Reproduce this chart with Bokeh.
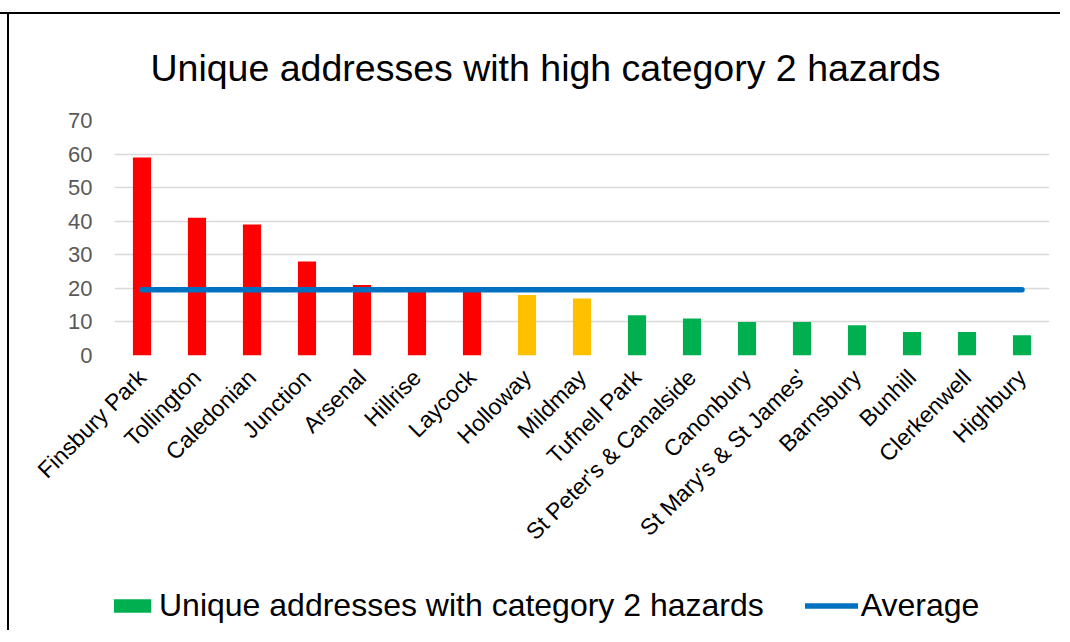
import math
from bokeh.plotting import figure
from bokeh.layouts import column
from bokeh.models import (ColumnDataSource, FactorRange, Range1d, FixedTicker,
                          Legend, LegendItem)
from bokeh.embed import file_html
from bokeh.resources import INLINE

# ---- data ----
wards = ["Finsbury Park", "Tollington", "Caledonian", "Junction", "Arsenal",
         "Hillrise", "Laycock", "Holloway", "Mildmay", "Tufnell Park",
         "St Peter's & Canalside", "Canonbury", "St Mary's & St James'",
         "Barnsbury", "Bunhill", "Clerkenwell", "Highbury"]
addresses = [59, 41, 39, 28, 21, 19, 19, 18, 17, 12, 11, 10, 10, 9, 7, 7, 6]
band = ["high", "high", "high", "high", "high", "high", "high",
        "medium", "medium",
        "low", "low", "low", "low", "low", "low", "low", "low"]
average_value = 19.6
y_ticks = [0, 10, 20, 30, 40, 50, 60, 70]

title_text = "Unique addresses with high category 2 hazards"
bar_label = "Unique addresses with category 2 hazards"
line_label = "Average"

# ---- styles ----
band_colors = {"high": "#FF0000", "medium": "#FFC000", "low": "#00B050"}
colors = [band_colors[b] for b in band]
AVG_COLOR = "#0070C0"
FONT = "Liberation Sans"
W = 1060

src = ColumnDataSource(dict(ward=wards, value=addresses, color=colors))

# ---- main chart ----
p = figure(width=W, height=575, output_backend="svg", toolbar_location=None,
           x_range=FactorRange(factors=wards, range_padding=0),
           y_range=Range1d(0, 70), tools="")
p.min_border_left = 114
p.min_border_right = W - 1049
p.min_border_top = 120
p.min_border_bottom = 575 - 355
p.outline_line_color = None
p.background_fill_color = "white"
p.border_fill_alpha = 0

p.title.text = title_text
p.title.text_font = FONT
p.title.text_font_size = "37.5px"
p.title.text_font_style = "normal"
p.title.text_color = "#000000"
p.title.align = "left"
p.title.offset = 36
p.title.standoff = 64

bars = p.vbar(x="ward", top="value", width=0.33, color="color", source=src,
              line_color=None)
line = p.line(x=[wards[0], wards[-1]], y=[average_value, average_value],
              line_color=AVG_COLOR, line_width=5.5, line_cap="round")

p.xgrid.grid_line_color = None
p.ygrid.grid_line_color = "#D9D9D9"
p.ygrid.grid_line_width = 1.5
p.yaxis.ticker = FixedTicker(ticks=y_ticks)
p.yaxis.axis_line_color = None
p.yaxis.major_tick_line_color = None
p.yaxis.minor_tick_line_color = None
p.yaxis.major_label_text_font = FONT
p.yaxis.major_label_text_font_size = "22px"
p.yaxis.major_label_text_color = "#595959"
p.yaxis.major_label_standoff = 16

p.xaxis.axis_line_color = None
p.xaxis.major_tick_line_color = None
p.xaxis.major_label_orientation = math.pi / 4
p.xaxis.major_label_text_font = FONT
p.xaxis.major_label_text_font_size = "23px"
p.xaxis.major_label_text_color = "#000000"
p.xaxis.major_label_standoff = 12

# ---- legend strip (its frame is aligned with the chart frame in the column) ----
q = figure(width=W, height=55, output_backend="svg", toolbar_location=None,
           x_range=Range1d(0, 1), y_range=Range1d(0, 1), tools="",
           x_axis_type=None, y_axis_type=None, min_border=0)
q.outline_line_color = None
q.background_fill_alpha = 0
q.border_fill_alpha = 0
q.xgrid.grid_line_color = None
q.ygrid.grid_line_color = None
# key glyphs: one off-range point each so the legend draws their swatches
key_bar = q.vbar(x=[-5], top=[-5], width=0.3, fill_color=band_colors["low"],
                 line_color=None)
key_line = q.line(x=[-5, -4], y=[-5, -5], line_color=AVG_COLOR, line_width=5.5,
                  line_cap="round")

legend = Legend(items=[LegendItem(label=bar_label, renderers=[key_bar]),
                       LegendItem(label=line_label, renderers=[key_line])],
                orientation="horizontal", location=(-11, 6))
legend.label_text_font = FONT
legend.label_text_font_size = "32px"
legend.label_text_color = "#000000"
legend.glyph_width = 53
legend.glyph_height = 17
legend.label_standoff = 3
legend.spacing = 41
legend.padding = 5
legend.border_line_color = None
legend.background_fill_alpha = 0
q.add_layout(legend, "center")

layout = column(p, q)
# chart-area border (left and top edges visible in the crop)
layout.styles = {"background": "linear-gradient(#000,#000) 0px 12px / 100% 2px no-repeat, "
                               "linear-gradient(#000,#000) 7px 12px / 2px 100% no-repeat, #ffffff"}

open("out.html", "w").write(file_html(layout, INLINE))
